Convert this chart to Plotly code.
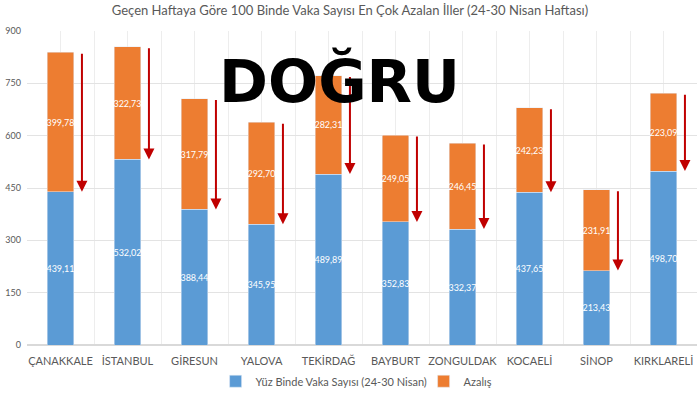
import plotly.graph_objects as go

categories = ["ÇANAKKALE", "İSTANBUL", "GİRESUN", "YALOVA", "TEKİRDAĞ",
              "BAYBURT", "ZONGULDAK", "KOCAELİ", "SİNOP", "KIRKLARELİ"]
current_cases = [439.11, 532.02, 388.44, 345.95, 489.89, 352.83, 332.37, 437.65, 213.43, 498.70]
decrease = [399.78, 322.73, 317.79, 292.70, 282.31, 249.05, 246.45, 242.23, 231.91, 223.09]
y_ticks = [0, 150, 300, 450, 600, 750, 900]

series_names = ["Yüz Binde Vaka Sayısı (24-30 Nisan)", "Azalış"]
title_text = "Geçen Haftaya Göre 100 Binde Vaka Sayısı En Çok Azalan İller (24-30 Nisan Haftası)"
stamp_text = "DOĞRU"

FONT = "Lato"
BLUE = "#5B9BD5"
ORANGE = "#ED7D31"
ARROW = "#C00000"

xs = list(range(len(categories)))

fig = go.Figure()
for vals, name, col in [(current_cases, series_names[0], BLUE), (decrease, series_names[1], ORANGE)]:
    fig.add_trace(go.Bar(
        x=xs, y=vals, name=name, marker_color=col,
        width=0.4, texttemplate="%{y:.2f}", textposition="inside",
        insidetextanchor="middle", constraintext="none", textangle=0,
        textfont=dict(color="white", size=9, family=FONT),
    ))

for i, (b, d) in enumerate(zip(current_cases, decrease)):
    fig.add_annotation(
        x=i + 0.32, y=b, ax=i + 0.32, ay=b + d,
        xref="x", yref="y", axref="x", ayref="y",
        showarrow=True, arrowhead=2, arrowsize=1.1, arrowwidth=2,
        arrowcolor=ARROW, text="",
    )

fig.add_annotation(
    text=stamp_text, xref="paper", yref="paper", x=0.467, y=0.838,
    showarrow=False, xanchor="center", yanchor="middle",
    font=dict(family="DejaVu Sans", size=59, color="black", weight="bold"),
)

fig.update_layout(
    width=700, height=393,
    margin=dict(l=27, r=3, t=31, b=48),
    barmode="stack",
    separators=",.",
    paper_bgcolor="white", plot_bgcolor="white",
    title=dict(text=title_text, x=0.5, xanchor="center", y=0.985, yanchor="top",
               font=dict(family=FONT, size=13, color="#595959")),
    showlegend=True,
    legend=dict(orientation="h", xref="container", yref="container",
                x=0.308, xanchor="left", y=0.03, yanchor="middle",
                font=dict(family=FONT, size=11, color="#595959"),
                itemwidth=30, entrywidth=163, traceorder="normal"),
    font=dict(family=FONT, color="#595959"),
)
fig.update_xaxes(
    automargin=False,
    range=[-0.5, len(categories) - 0.5],
    tickmode="array", tickvals=xs, ticktext=categories,
    tickfont=dict(family=FONT, size=11, color="#595959"),
    showgrid=True, gridcolor="#EDEDED", gridwidth=1,
    minor=dict(tickmode="array", tickvals=[i - 0.5 for i in range(len(categories) + 1)],
               showgrid=True, gridcolor="#EDEDED", gridwidth=1, ticklen=0),
    zeroline=False, showline=False, ticks="", ticklabelstandoff=8,
)
fig.update_yaxes(
    automargin=False,
    range=[0, 900], tickmode="array", tickvals=y_ticks,
    tickfont=dict(family=FONT, size=9, color="#595959"),
    showgrid=True, gridcolor="#E3E3E3", gridwidth=1,
    zeroline=True, zerolinecolor="#D9D9D9", showline=False, ticks="",
    ticklabelstandoff=5,
)

fig.write_html("out.html", config={"displayModeBar": False},
               post_script="document.body.style.margin='0';")
